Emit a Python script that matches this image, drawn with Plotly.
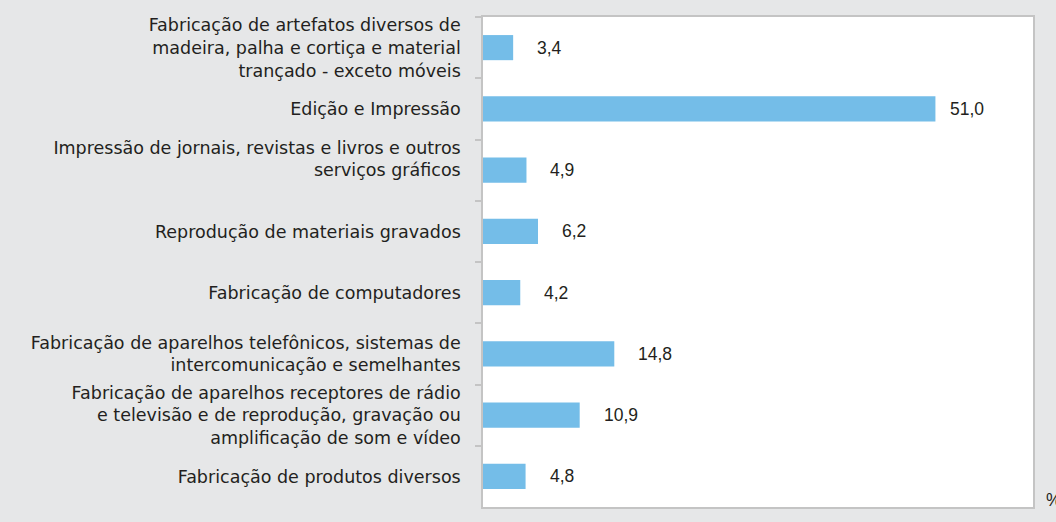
import plotly.graph_objects as go

categories = [
    "Fabricação de artefatos diversos de<br>madeira, palha e cortiça e material<br>trançado - exceto móveis",
    "Edição e Impressão",
    "Impressão de jornais, revistas e livros e outros<br>serviços gráficos<br> ",
    "Reprodução de materiais gravados",
    "Fabricação de computadores",
    "Fabricação de aparelhos telefônicos, sistemas de<br>intercomunicação e semelhantes",
    "Fabricação de aparelhos receptores de rádio<br>e televisão e de reprodução, gravação ou<br>amplificação de som e vídeo",
    "Fabricação de produtos diversos",
]
values = [3.4, 51.0, 4.9, 6.2, 4.2, 14.8, 10.9, 4.8]
value_labels = ["3,4", "51,0", "4,9", "6,2", "4,2", "14,8", "10,9", "4,8"]
unit_label = "%"

BG = "#e6e7e8"
BAR = "#74bde8"
TXT = "#231f20"
AX = "#c4c4c4"
CAT_FONT = "DejaVu Sans"
VAL_FONT = "Liberation Sans"

fig = go.Figure(go.Bar(
    x=values, y=categories, orientation="h",
    marker=dict(color=BAR, line=dict(width=0)),
    width=0.41, hoverinfo="skip",
))

vmax = max(values)
for v, c, t in zip(values, categories, value_labels):
    fig.add_annotation(
        x=v, y=c, text=t, showarrow=False, xanchor="left", yanchor="middle",
        xshift=13 if v == vmax else 22,
        font=dict(family=VAL_FONT, size=17.5, color=TXT),
    )

fig.add_annotation(
    x=1.02, y=0.014, xref="paper", yref="paper", text=unit_label,
    showarrow=False, xanchor="left", yanchor="middle",
    font=dict(family=VAL_FONT, size=17.5, color=TXT),
)

fig.update_layout(
    width=1056, height=522,
    margin=dict(l=483, r=23, t=17, b=15, autoexpand=False),
    paper_bgcolor=BG, plot_bgcolor="white",
    showlegend=False,
    font=dict(family=CAT_FONT, size=17.5, color=TXT),
    xaxis=dict(range=[0, 62], showgrid=False, zeroline=False, showticklabels=False,
               ticks="", showline=True, linecolor=AX, linewidth=1.5, mirror=True,
               fixedrange=True, automargin=False),
    yaxis=dict(type="category", categoryorder="array", categoryarray=categories,
               range=[7.5, -0.5], showgrid=False, zeroline=False, automargin=False,
               ticks="outside", tickson="boundaries", ticklen=6, tickcolor=AX,
               tickwidth=1.5, showline=True, linecolor=AX, linewidth=1.5,
               mirror=True, ticklabelstandoff=17,
               tickfont=dict(family=CAT_FONT, size=17.5, color=TXT), fixedrange=True),
)

fig.write_html(
    "out.html",
    config={"displayModeBar": False},
    post_script="document.body.style.margin='0';document.body.style.overflow='hidden';",
)
